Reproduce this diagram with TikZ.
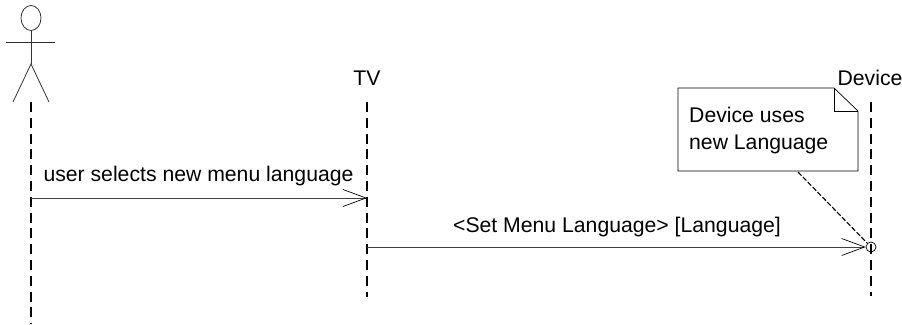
\documentclass[tikz,border=0pt]{standalone}
\usepackage{fontspec}
\setmainfont{Liberation Sans}
\usetikzlibrary{arrows.meta}
\tikzset{
    lifeline/.style={dash pattern=on 10pt off 5.8pt, line width=1.1pt},
    message/.style={draw=black!75, line width=0.9pt, -{Straight Barb[length=23pt,width=17pt,line width=0.7pt,black]}},
    label/.style={font=\fontsize{21.2}{27}\selectfont, inner sep=0pt},
    actor/.style={line width=0.8pt, black!80}
}
\begin{document}
\begin{tikzpicture}[x=1pt,y=-1pt]
    \useasboundingbox (0,0) rectangle (902,324);

    % Actor
    \draw[actor] (31,18) ellipse (10 and 12.5);
    \draw[actor] (31,31) -- (31,64);
    \draw[actor] (6,42.5) -- (55,42.5);
    \draw[actor] (13,102) -- (31,64) -- (49,102);

    % Lifeline ends
    \coordinate (usertop) at (31,102);
    \coordinate (userend) at (31,324);
    \coordinate (tvtop) at (367,102);
    \coordinate (tvend) at (367,297);
    \coordinate (devicetop) at (871,102);
    \coordinate (deviceend) at (871,296);

    % Lifelines
    \draw[lifeline] (usertop) -- (userend);
    \draw[lifeline] (tvtop) -- (tvend);
    \draw[lifeline] (devicetop) -- (deviceend);

    \node[label] (tv) at (367,78) {TV};
    \node[label] (device) at (870,78) {Device};

    % Messages
    \coordinate (usermsg) at (31,198);
    \coordinate (tvget) at (367,198);
    \coordinate (tvmsg) at (367,247);
    \node[circle, draw, line width=0.7pt, minimum size=10pt, inner sep=0pt] (devicedot) at (871,247) {};
    \draw[message] (usermsg) -- (tvget);
    \draw[message] (tvmsg) -- (devicedot.west);
    \node[label] (selects) at (198.5,176) {user selects new menu language};
    \node[label] (setlang) at (617,227) {<Set Menu Language> [Language]};

    % Note
    \coordinate (notetl) at (678,88);
    \coordinate (notefold) at (834,88);
    \coordinate (noteinner) at (834,111);
    \coordinate (noter) at (858,111);
    \coordinate (notebr) at (858,171);
    \coordinate (notebl) at (678,171);
    \coordinate (notefoot) at (798,172);
    \draw[line width=0.7pt] (notetl) -- (notefold) -- (noter) -- (notebr) -- (notebl) -- cycle;
    \draw[line width=0.7pt] (notefold) -- (noteinner) -- (noter);
    \node[label, align=left, anchor=north west] (notetext) at (689,107) {Device uses\\new Language};
    \draw[line width=1.1pt, dash pattern=on 5pt off 2pt] (notefoot) -- (devicedot);
\end{tikzpicture}
\end{document}
